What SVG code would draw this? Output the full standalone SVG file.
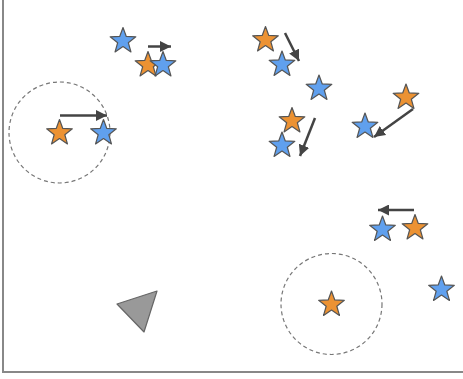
<svg xmlns="http://www.w3.org/2000/svg" xmlns:xlink="http://www.w3.org/1999/xlink" width="463" height="379" viewBox="0 0 463 379">
<style>
.o{fill:#EC9233;stroke:#555;stroke-width:1.2;stroke-linejoin:round}
.b{fill:#60A0EE;stroke:#555;stroke-width:1.2;stroke-linejoin:round}
.ring{fill:none;stroke:#777;stroke-width:1.2;stroke-dasharray:4 3}
.arr{stroke:#444;stroke-width:2.5;fill:none;marker-end:url(#ah)}
.axis{stroke:#888;stroke-width:2;fill:none}
</style>
<defs>
<path id="star" d="M0,-13.5 L3.29,-4.53 L12.84,-4.17 L5.33,1.73 L7.94,10.92 L0,5.6 L-7.94,10.92 L-5.33,1.73 L-12.84,-4.17 L-3.29,-4.53 Z"/>
<marker id="ah" viewBox="0 0 10 10" refX="10" refY="5" markerWidth="4.4" markerHeight="4.4" markerUnits="strokeWidth" orient="auto">
<path d="M0,0 L10,5 L0,10 Z" fill="#444"/>
</marker>
</defs>
<rect width="463" height="379" fill="#fff"/>
<path class="axis" d="M3,0 V372 H463"/>
<g id="zones">
<circle class="ring" cx="59.5" cy="132.5" r="50.5"/>
<circle class="ring" cx="331.5" cy="304" r="50.5"/>
</g>
<g id="obstacle"><polygon points="117,304 157,291 144,332" fill="#999" stroke="#666" stroke-width="1.2" stroke-linejoin="round"/></g>
<g id="connectors">
<line class="arr" x1="148" y1="46.5" x2="171" y2="46.5"/>
<line class="arr" x1="60" y1="115.5" x2="107" y2="115.5"/>
<line class="arr" x1="285" y1="33" x2="299" y2="61"/>
<line class="arr" x1="315" y1="118" x2="300" y2="156"/>
<line class="arr" x1="413" y1="109" x2="374" y2="137"/>
<line class="arr" x1="414" y1="210" x2="378" y2="210"/>
</g>
<g id="s1"><use href="#star" class="b" x="123" y="41"/></g>
<g id="s2"><use href="#star" class="o" x="148" y="65"/></g>
<g id="s3"><use href="#star" class="b" x="163" y="65"/></g>
<g id="s4"><use href="#star" class="o" x="59.5" y="133"/></g>
<g id="s5"><use href="#star" class="b" x="103.5" y="133"/></g>
<g id="s6"><use href="#star" class="o" x="265.5" y="40"/></g>
<g id="s7"><use href="#star" class="b" x="282" y="64.5"/></g>
<g id="s8"><use href="#star" class="b" x="319" y="88.5"/></g>
<g id="s9"><use href="#star" class="b" x="282" y="145.5"/></g>
<g id="s10"><use href="#star" class="o" x="292" y="121"/></g>
<g id="s11"><use href="#star" class="o" x="406" y="97.5"/></g>
<g id="s12"><use href="#star" class="b" x="365" y="126.5"/></g>
<g id="s13"><use href="#star" class="b" x="382.5" y="229.5"/></g>
<g id="s14"><use href="#star" class="o" x="415" y="228"/></g>
<g id="s15"><use href="#star" class="o" x="331.5" y="304.5"/></g>
<g id="s16"><use href="#star" class="b" x="441.5" y="289.5"/></g>
</svg>
